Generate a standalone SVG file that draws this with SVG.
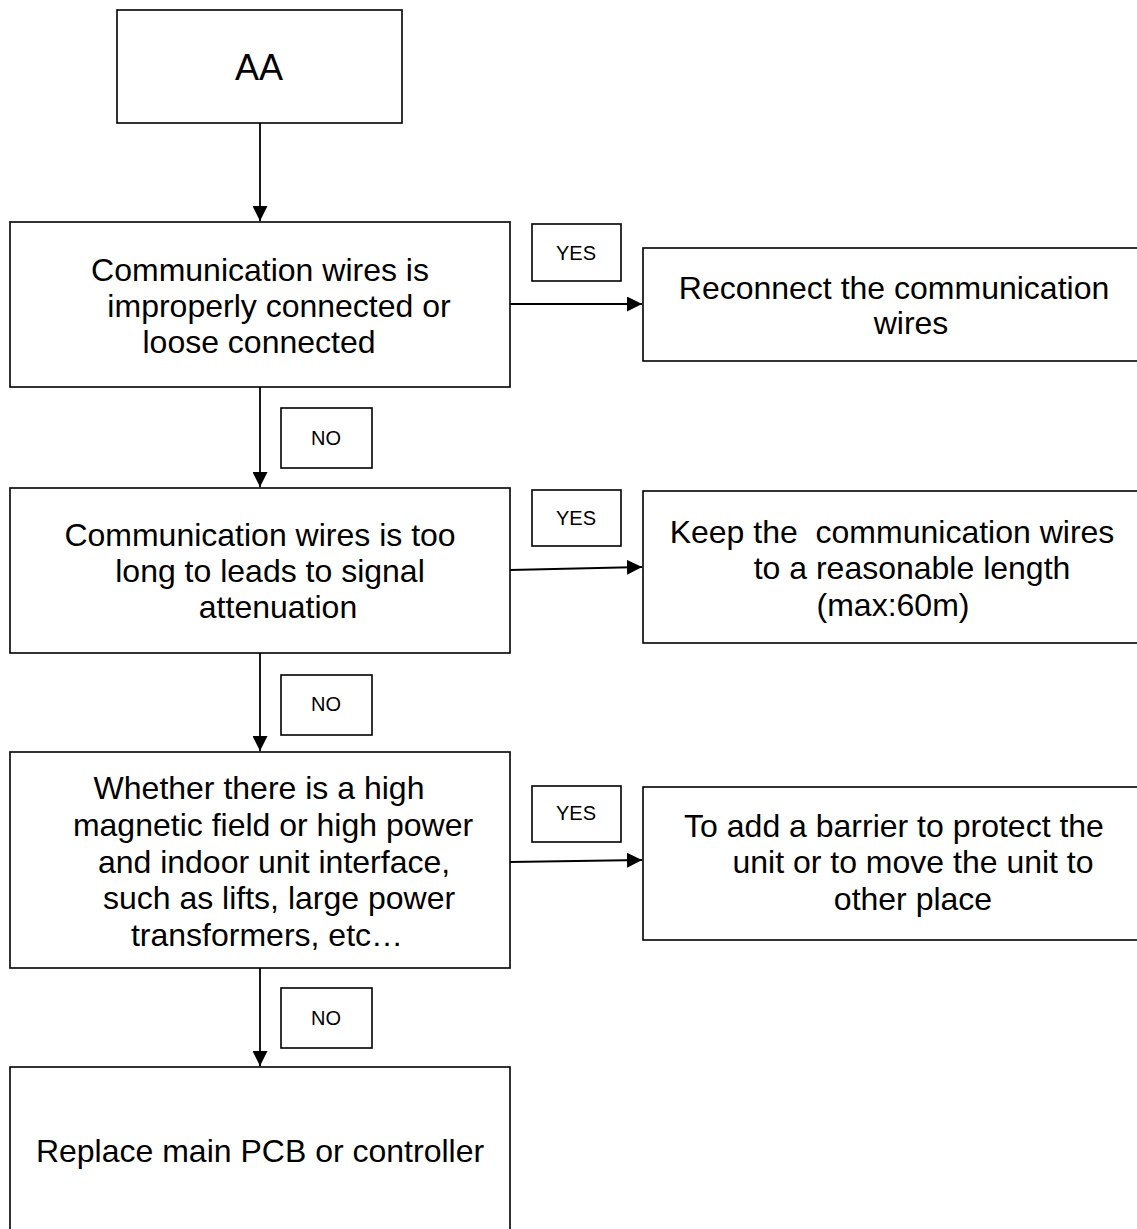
<svg xmlns="http://www.w3.org/2000/svg" width="1137" height="1229" viewBox="0 0 1137 1229">
<style>
.box{fill:#fff;stroke:#000;stroke-width:1.6}
.t{font-family:"Liberation Sans",Arial,sans-serif;font-size:32px;fill:#000;text-anchor:middle}
.s{font-family:"Liberation Sans",Arial,sans-serif;font-size:20px;fill:#000;text-anchor:middle}
.c{stroke:#000;stroke-width:1.8;fill:none}
</style>
<defs>
<marker id="ah" markerWidth="15" markerHeight="15" refX="10" refY="5" orient="auto" markerUnits="userSpaceOnUse" viewBox="0 0 10 10">
<path d="M0,0 L10,5 L0,10 Z" fill="#000"/>
</marker>
</defs>
<rect width="1137" height="1229" fill="#fff"/>
<g id="connectors">
<line class="c" x1="260" y1="123" x2="260" y2="221" marker-end="url(#ah)"/>
<line class="c" x1="510" y1="304" x2="642" y2="304" marker-end="url(#ah)"/>
<line class="c" x1="260" y1="387" x2="260" y2="487" marker-end="url(#ah)"/>
<line class="c" x1="510" y1="570" x2="642" y2="567" marker-end="url(#ah)"/>
<line class="c" x1="260" y1="653" x2="260" y2="751" marker-end="url(#ah)"/>
<line class="c" x1="510" y1="862" x2="642" y2="860" marker-end="url(#ah)"/>
<line class="c" x1="260" y1="968" x2="260" y2="1066" marker-end="url(#ah)"/>
</g>
<g id="node-aa">
<rect class="box" x="117" y="10" width="285" height="113"/>
<text class="t" x="259" y="80" style="font-size:36px">AA</text>
</g>
<g id="node-q1">
<rect class="box" x="10" y="222" width="500" height="165"/>
<text class="t" x="260" y="281">Communication wires is</text>
<text class="t" x="279" y="317">improperly connected or</text>
<text class="t" x="259" y="353">loose connected</text>
</g>
<g id="label-yes1">
<rect class="box" x="532" y="224" width="89" height="57"/>
<text class="s" x="576" y="260">YES</text>
</g>
<g id="node-a1">
<rect class="box" x="643" y="248" width="510" height="113"/>
<text class="t" x="894" y="299">Reconnect the communication</text>
<text class="t" x="911" y="334">wires</text>
</g>
<g id="label-no1">
<rect class="box" x="281" y="408" width="91" height="60"/>
<text class="s" x="326" y="445">NO</text>
</g>
<g id="node-q2">
<rect class="box" x="10" y="488" width="500" height="165"/>
<text class="t" x="260" y="546">Communication wires is too</text>
<text class="t" x="270" y="582">long to leads to signal</text>
<text class="t" x="278" y="618">attenuation</text>
</g>
<g id="label-yes2">
<rect class="box" x="532" y="490" width="89" height="56"/>
<text class="s" x="576" y="525">YES</text>
</g>
<g id="node-a2">
<rect class="box" x="643" y="491" width="510" height="152"/>
<text class="t" x="892" y="543" xml:space="preserve">Keep the  communication wires</text>
<text class="t" x="912" y="579">to a reasonable length</text>
<text class="t" x="893" y="616">(max:60m)</text>
</g>
<g id="label-no2">
<rect class="box" x="281" y="675" width="91" height="60"/>
<text class="s" x="326" y="711">NO</text>
</g>
<g id="node-q3">
<rect class="box" x="10" y="752" width="500" height="216"/>
<text class="t" x="259" y="799">Whether there is a high</text>
<text class="t" x="273" y="836">magnetic field or high power</text>
<text class="t" x="274" y="873">and indoor unit interface,</text>
<text class="t" x="279" y="909">such as lifts, large power</text>
<text class="t" x="267" y="946">transformers, etc…</text>
</g>
<g id="label-yes3">
<rect class="box" x="532" y="786" width="89" height="56"/>
<text class="s" x="576" y="820">YES</text>
</g>
<g id="node-a3">
<rect class="box" x="643" y="787" width="510" height="153"/>
<text class="t" x="894" y="837">To add a barrier to protect the</text>
<text class="t" x="913" y="873">unit or to move the unit to</text>
<text class="t" x="913" y="910">other place</text>
</g>
<g id="label-no3">
<rect class="box" x="281" y="988" width="91" height="60"/>
<text class="s" x="326" y="1025">NO</text>
</g>
<g id="node-end">
<rect class="box" x="10" y="1067" width="500" height="180"/>
<text class="t" x="260" y="1162">Replace main PCB or controller</text>
</g>
</svg>
